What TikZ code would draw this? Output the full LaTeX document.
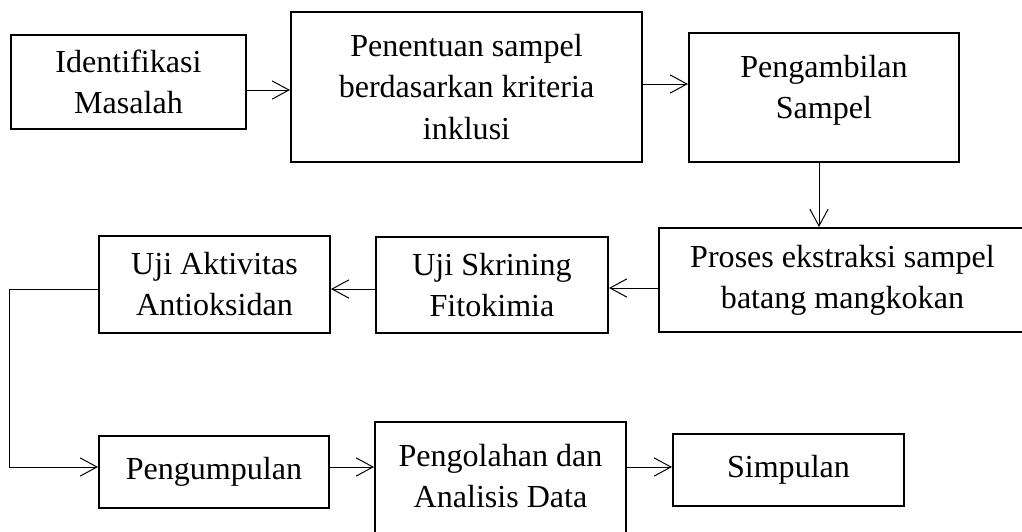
\documentclass[tikz,border=0pt]{standalone}
\usepackage{fontspec}
\setmainfont{Liberation Serif}
\usepackage{tikz}
\usetikzlibrary{arrows.meta,positioning,calc}

\begin{document}
\begin{tikzpicture}[
      x=0.025cm,y=-0.025cm,
      box/.style={
        draw=black,
        line width=1.4pt,
        align=center,
        inner sep=0pt,
        font=\fontsize{22.8pt}{29.2pt}\selectfont
      },
      arrow/.style={-{Straight Barb[length=12pt,width=13pt]},line width=0.7pt,draw=black}
    ]
      \useasboundingbox (0,0) rectangle (1022,532);
      \node[box,minimum width=5.875cm,minimum height=2.35cm] (ident) at (128.5,82) {Identifikasi\\Masalah};
      \node[box,minimum width=8.775cm,minimum height=3.75cm] (tentu) at (466.5,87) {Penentuan sampel\\berdasarkan kriteria\\inklusi};
      \node[box,minimum width=6.75cm,minimum height=3.225cm] (ambil) at (824,97.5) {Pengambilan\\Sampel\\[-13.5pt]\mbox{}};
      \node[box,minimum width=9.175cm,minimum height=2.6cm] (proses) at (842.5,280) {Proses ekstraksi sampel\\batang mangkokan};
      \node[box,minimum width=5.8cm,minimum height=2.4cm] (skrin) at (492,285) {Uji Skrining\\Fitokimia};
      \node[box,minimum width=5.775cm,minimum height=2.425cm] (aktiv) at (214.5,284.5) {Uji Aktivitas\\Antioksidan};
      \node[box,minimum width=5.75cm,minimum height=1.8cm] (kumpul) at (214,472) {Pengumpulan};
      \node[box,minimum width=6.275cm,minimum height=3.225cm] (olah) at (500.5,486.5) {Pengolahan dan\\Analisis Data\\[-13.5pt]\mbox{}};
      \node[box,minimum width=5.775cm,minimum height=1.8cm] (simpul) at (788.5,470) {Simpulan};
      \draw[arrow] ([yshift=-0.2cm]ident.east) -- ([yshift=-0.2cm]ident.east -| tentu.west);
      \draw[arrow] ([yshift=0.075cm]tentu.east) -- ([yshift=0.075cm]tentu.east -| ambil.west);
      \draw[arrow] ([xshift=-0.125cm]ambil.south) -- ([xshift=-0.125cm]ambil.south |- proses.north);
      \draw[arrow] ([yshift=-0.2cm]proses.west) -- ([yshift=-0.2cm]proses.west -| skrin.east);
      \draw[arrow] ([yshift=-0.1cm]skrin.west) -- ([yshift=-0.1cm]skrin.west -| aktiv.east);
      \draw[arrow] ([yshift=-0.1125cm]aktiv.west) -- ++(-88,0) |- ([yshift=0.125cm]kumpul.west);
      \draw[arrow] ([yshift=0.125cm]kumpul.east) -- ([yshift=0.125cm]kumpul.east -| olah.west);
      \draw[arrow] ([yshift=0.075cm]simpul.west -| olah.east) -- ([yshift=0.075cm]simpul.west);
    \end{tikzpicture}
\end{document}
